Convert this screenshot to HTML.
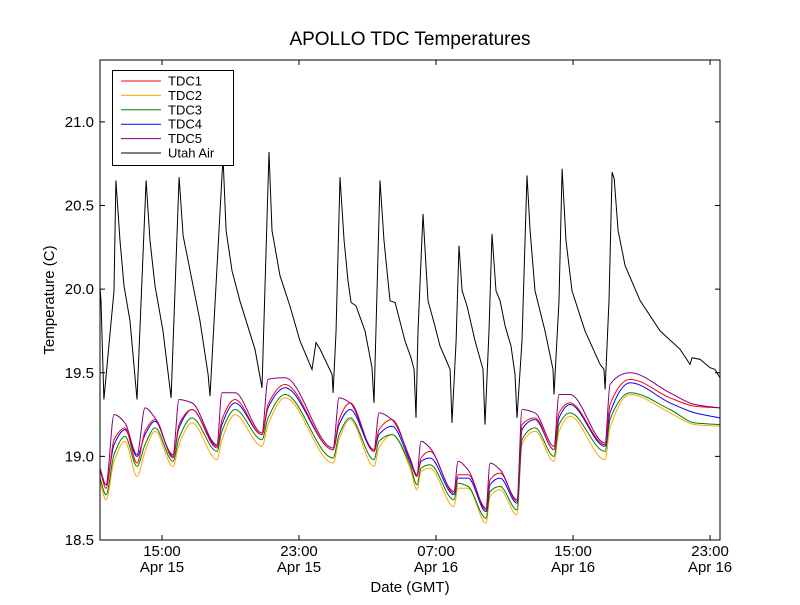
<!DOCTYPE html>
<html><head><meta charset="utf-8"><style>
body{margin:0;background:#fff;}
svg text{font-family:"Liberation Sans","DejaVu Sans",sans-serif;}
</style></head><body>
<svg id="chart" width="800" height="600" viewBox="0 0 800 600" xmlns="http://www.w3.org/2000/svg">
<rect width="800" height="600" fill="#fff"/>
<text x="410" y="45" font-size="19" text-anchor="middle">APOLLO TDC Temperatures</text>
<text x="410" y="592" font-size="15" text-anchor="middle">Date (GMT)</text>
<text transform="translate(54,300) rotate(-90)" font-size="15" text-anchor="middle">Temperature (C)</text>
<g id="series"></g>
<g id="axes"></g>
<g id="legend"></g>
</svg>
<script>
// time in hours since Apr 15 00:00 GMT, temperatures in deg C
const airTimes=[11.38,11.44,11.61,12.20,12.31,12.55,12.78,13.13,13.54,14.07,14.30,14.59,15.06,15.53,16.00,16.23,16.64,17.22,17.69,17.80,18.56,18.74,19.09,19.55,20.43,20.84,21.25,21.42,21.89,22.47,23.06,23.76,23.99,24.23,24.93,24.99,25.16,25.39,25.63,25.86,26.04,26.33,26.85,27.26,27.38,27.73,27.96,28.31,28.61,29.19,29.54,29.72,29.83,29.95,30.24,30.53,30.88,31.23,31.82,31.93,32.17,32.34,32.52,32.81,33.28,33.74,33.86,34.09,34.27,34.50,34.74,35.03,35.38,35.61,35.73,36.02,36.31,36.49,36.78,37.36,37.83,37.89,38.18,38.36,38.59,38.94,39.70,40.58,40.81,40.87,41.10,41.28,41.40,41.63,42.04,42.92,44.08,45.25,45.83,45.95,46.42,47.00,47.29,47.58];
const utahAir=[20.01,19.93,19.34,19.99,20.65,20.29,20.02,19.81,19.34,20.65,20.29,20.02,19.75,19.35,20.67,20.32,20.11,19.81,19.49,19.36,20.79,20.35,20.11,19.93,19.64,19.41,20.82,20.35,20.08,19.90,19.69,19.52,19.68,19.64,19.49,19.38,19.74,20.67,20.29,20.05,19.92,19.90,19.75,19.53,19.32,20.65,20.29,19.93,19.92,19.69,19.59,19.52,19.23,19.75,20.45,19.93,19.80,19.66,19.52,19.20,19.69,20.26,19.99,19.90,19.69,19.52,19.19,19.75,20.33,19.99,19.93,19.78,19.66,19.49,19.23,19.69,20.68,20.35,19.99,19.75,19.52,19.37,19.93,20.72,20.29,19.99,19.75,19.55,19.52,19.40,19.93,20.70,20.66,20.35,20.14,19.93,19.75,19.64,19.55,19.59,19.58,19.53,19.52,19.47];
const tdcTimes=[11.38,11.73,12.20,12.84,13.54,14.01,14.59,15.64,15.99,16.75,18.21,18.50,19.26,20.84,21.19,22.18,24.99,25.34,25.98,27.38,27.67,28.43,29.48,29.89,30.12,30.65,32.05,32.28,32.87,33.92,34.15,34.74,35.73,36.02,36.78,37.89,38.18,38.82,40.87,41.16,42.33,44.66,46.12,47.58];
const tdc1=[18.92,18.81,19.10,19.17,18.96,19.15,19.22,18.99,19.19,19.28,19.05,19.22,19.34,19.13,19.31,19.43,19.04,19.22,19.32,19.03,19.16,19.22,18.98,18.88,18.99,19.03,18.78,18.89,18.89,18.68,18.86,18.90,18.73,19.19,19.23,19.04,19.26,19.32,19.07,19.31,19.46,19.35,19.30,19.29];
const tdc2=[18.85,18.74,18.97,19.09,18.88,19.03,19.15,18.94,19.07,19.20,18.98,19.10,19.25,19.06,19.19,19.35,18.96,19.10,19.22,18.94,19.05,19.13,18.93,18.80,18.91,18.93,18.70,18.81,18.81,18.60,18.76,18.80,18.65,19.07,19.15,18.97,19.15,19.24,18.98,19.17,19.37,19.26,19.19,19.18];
const tdc3=[18.87,18.77,19.01,19.12,18.94,19.07,19.17,18.97,19.11,19.23,19.03,19.15,19.28,19.10,19.23,19.37,18.99,19.13,19.23,18.98,19.09,19.13,18.95,18.83,18.93,18.95,18.74,18.84,18.82,18.63,18.79,18.82,18.68,19.10,19.17,19.00,19.19,19.26,19.03,19.22,19.38,19.28,19.20,19.19];
const tdc4=[18.92,18.83,19.07,19.16,19.00,19.13,19.21,19.00,19.17,19.28,19.06,19.19,19.32,19.13,19.29,19.41,19.04,19.19,19.28,19.03,19.13,19.18,18.97,18.88,18.97,18.99,18.77,18.87,18.87,18.67,18.83,18.87,18.72,19.16,19.22,19.04,19.23,19.31,19.06,19.26,19.44,19.32,19.26,19.23];
const tdc5=[18.93,18.83,19.25,19.20,19.01,19.29,19.23,19.01,19.34,19.32,19.07,19.38,19.38,19.14,19.46,19.47,19.05,19.35,19.32,19.04,19.26,19.22,18.99,18.89,19.09,19.05,18.79,18.97,18.92,18.69,18.96,18.92,18.74,19.28,19.26,19.06,19.37,19.37,19.08,19.43,19.50,19.38,19.31,19.29];
const yTicks=[18.5,19.0,19.5,20.0,20.5,21.0];
const xTicks=[15,23,31,39,47];
const xTickTime=["15:00","23:00","07:00","15:00","23:00"];
const xTickDate=["Apr 15","Apr 15","Apr 16","Apr 16","Apr 16"];
const seriesNames=["TDC1","TDC2","TDC3","TDC4","TDC5","Utah Air"];
const seriesColors=["#ff0000","#ffa500","#008000","#0000ff","#800080","#000000"];

const L=100,R=720,T=60,B=540;
const hMin=11.38,hMax=47.58,yMin=18.5,yMax=21.37;
function xs(h){return L+(h-hMin)/(hMax-hMin)*(R-L);}
function ys(v){return B-(v-yMin)/(yMax-yMin)*(B-T);}
const NS="http://www.w3.org/2000/svg";
function mk(tag,attrs,parent){const e=document.createElementNS(NS,tag);for(const k in attrs)e.setAttribute(k,attrs[k]);parent.appendChild(e);return e;}
const gS=document.getElementById('series'),gA=document.getElementById('axes'),gL=document.getElementById('legend');

function linearPath(X,Y){return X.map((x,j)=>(j?'L':'M')+x.toFixed(1)+','+Y[j].toFixed(1)).join('');}
function monotonePath(X,Y){
  const n=X.length,d=[],m=new Array(n);
  for(let i=0;i<n-1;i++)d.push((Y[i+1]-Y[i])/(X[i+1]-X[i]));
  m[0]=d[0];m[n-1]=d[n-2];
  for(let i=1;i<n-1;i++){
    if(d[i-1]*d[i]<=0)m[i]=0;
    else{const h0=X[i]-X[i-1],h1=X[i+1]-X[i];const w1=2*h1+h0,w2=h1+2*h0;m[i]=(w1+w2)/(w1/d[i-1]+w2/d[i]);}
  }
  let p='M'+X[0].toFixed(1)+','+Y[0].toFixed(1);
  for(let i=0;i<n-1;i++){
    const h=(X[i+1]-X[i])/3;
    p+='C'+(X[i]+h).toFixed(1)+','+(Y[i]+m[i]*h).toFixed(1)+' '+(X[i+1]-h).toFixed(1)+','+(Y[i+1]-m[i+1]*h).toFixed(1)+' '+X[i+1].toFixed(1)+','+Y[i+1].toFixed(1);
  }
  return p;
}

const allSeries=[[tdcTimes,tdc1],[tdcTimes,tdc2],[tdcTimes,tdc3],[tdcTimes,tdc4],[tdcTimes,tdc5],[airTimes,utahAir]];
const clip=mk('clipPath',{id:'pc'},gS);mk('rect',{x:L,y:T,width:R-L,height:B-T},clip);
[5,1,2,3,0,4].forEach(i=>{
  const [t,v]=allSeries[i];
  const X=t.map(xs),Y=v.map(ys);
  const d=i===5?linearPath(X,Y):monotonePath(X,Y);
  const p=mk('path',{d:d,fill:'none',stroke:seriesColors[i],'stroke-width':1,'clip-path':'url(#pc)'},gS);
  
  
});

const frame=mk('rect',{x:L,y:T,width:R-L,height:B-T,fill:'none',stroke:'#000','stroke-width':1},gA);


yTicks.forEach(v=>{
  const y=ys(v);
  mk('line',{x1:L,x2:L+5,y1:y,y2:y,stroke:'#000'},gA);
  mk('line',{x1:R,x2:R-5,y1:y,y2:y,stroke:'#000'},gA);
  const t=mk('text',{x:L-6,y:y+5,'font-size':15,'text-anchor':'end'},gA);
  t.textContent=v.toFixed(1);
  
  
});
xTicks.forEach((h,i)=>{
  const x=xs(h);
  mk('line',{x1:x,x2:x,y1:B,y2:B-5,stroke:'#000'},gA);
  mk('line',{x1:x,x2:x,y1:T,y2:T+5,stroke:'#000'},gA);
  const t1=mk('text',{x:x,y:556,'font-size':15,'text-anchor':'middle'},gA);
  t1.textContent=xTickTime[i];
  
  
  const t2=mk('text',{x:x,y:572,'font-size':15,'text-anchor':'middle'},gA);
  t2.textContent=xTickDate[i];
  
  
});

const lb=mk('rect',{x:112.5,y:70.5,width:121,height:95,fill:'#fff',stroke:'#000','stroke-width':1},gL);


seriesNames.forEach((n,i)=>{
  const y=81+i*14.4;
  const g=mk('g',{},gL);
  
  
  mk('line',{x1:121,x2:161,y1:y,y2:y,stroke:seriesColors[i],'stroke-width':1},g);
  const t=mk('text',{x:168,y:y+4.5,'font-size':13},g);
  t.textContent=n;
});
</script>
</body></html>
